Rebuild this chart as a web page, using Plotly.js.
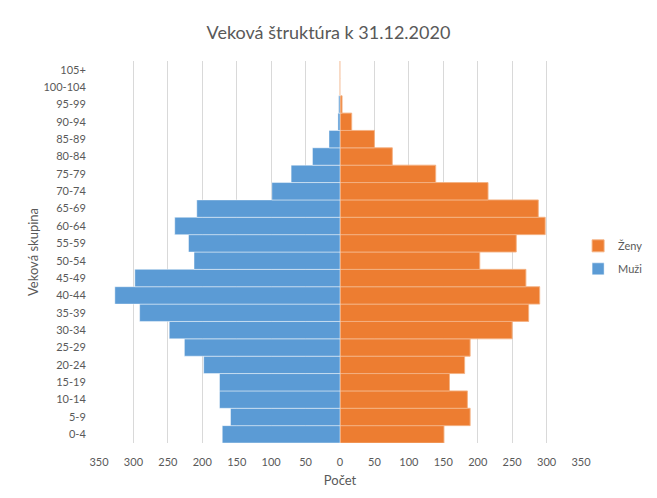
<!DOCTYPE html>
<html>
<head>
<meta charset="utf-8">
<script src="https://cdn.plot.ly/plotly-3.0.1.min.js"></script>
<style>html,body{margin:0;padding:0;background:#fff;}#chart{width:657px;height:498px;}</style>
</head>
<body>
<div id="chart"></div>
<script>
const ageGroups = ["0-4","5-9","10-14","15-19","20-24","25-29","30-34","35-39","40-44","45-49","50-54","55-59","60-64","65-69","70-74","75-79","80-84","85-89","90-94","95-99","100-104","105+"];
const men   = [171, 159, 175, 175, 198, 226, 248, 291, 327, 298, 212, 220, 240, 208, 99, 71, 40, 16, 3, 2, 0, 0];
const women = [151, 189, 185, 159, 181, 189, 250, 274, 290, 270, 203, 256, 298, 288, 215, 139, 76, 50, 17, 3, 0.5, 0.5];
const tickValues = [-350,-300,-250,-200,-150,-100,-50,0,50,100,150,200,250,300,350];
const tickLabels = tickValues.map(v => String(Math.abs(v)));
const labelMen = "Muži";
const labelWomen = "Ženy";

const font = {family: "Lato, 'Open Sans', sans-serif", color: "#595959"};

const traces = [
  {
    type: "bar", orientation: "h", name: labelWomen, legendgroup: "w",
    y: ageGroups, x: women,
    marker: {color: "#ed7d31", line: {color: "rgba(244,177,131,0.9)", width: 1}},
    hoverinfo: "skip"
  },
  {
    type: "bar", orientation: "h", name: labelMen, legendgroup: "m",
    y: ageGroups, x: men.map(v => -v),
    marker: {color: "#5b9bd5", line: {color: "rgba(255,255,255,0.45)", width: 1}},
    hoverinfo: "skip"
  }
];

const layout = {
  width: 657, height: 498,
  margin: {l: 99, r: 76, t: 61, b: 55, autoexpand: false},
  paper_bgcolor: "#fff", plot_bgcolor: "#fff",
  font: Object.assign({size: 11}, font),
  title: {text: "Veková štruktúra k 31.12.2020", font: Object.assign({}, font, {size: 18}), x: 0.5, xanchor: "center", y: 0.935, yanchor: "middle"},
  barmode: "relative", bargap: 0,
  showlegend: true,
  legend: {x: 0.994, xanchor: "left", y: 0.486, yanchor: "middle", traceorder: "grouped", font: Object.assign({}, font, {size: 11}), itemwidth: 30, tracegroupgap: 4, bgcolor: "rgba(0,0,0,0)"},
  xaxis: {
    range: [-350, 350], tickvals: tickValues, ticktext: tickLabels,
    showgrid: true, gridcolor: "#d9d9d9", gridwidth: 1, zeroline: false,
    showline: false, ticks: "outside", ticklen: 9, tickcolor: "rgba(0,0,0,0)",
    tickfont: Object.assign({size: 11}, font),
    title: {text: "Počet", font: Object.assign({size: 13}, font), standoff: 8},
    fixedrange: true
  },
  yaxis: {
    type: "category", categoryorder: "array", categoryarray: ageGroups,
    showgrid: false, zeroline: false, showline: false,
    ticks: "outside", ticklen: 10, tickcolor: "rgba(0,0,0,0)",
    tickfont: Object.assign({size: 11}, font),
    title: {text: "Veková skupina", font: Object.assign({size: 13}, font), standoff: 1},
    fixedrange: true
  }
};

Plotly.newPlot("chart", traces, layout, {displayModeBar: false, staticPlot: true});
</script>
</body>
</html>
